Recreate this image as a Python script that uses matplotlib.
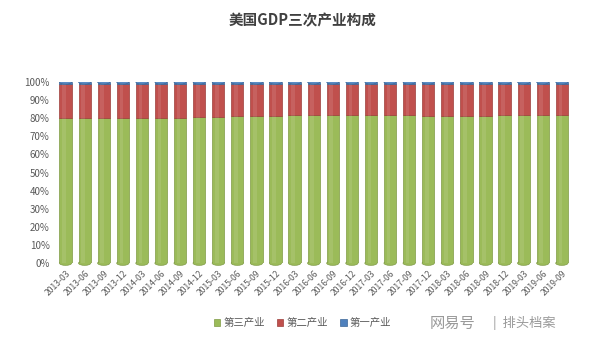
import matplotlib
matplotlib.use("Agg")
import matplotlib.pyplot as plt
import numpy as np
from matplotlib.patches import Ellipse

plt.rcParams['font.family'] = ['Noto Sans CJK SC', 'DejaVu Sans']

quarters = ["2013-03", "2013-06", "2013-09", "2013-12", "2014-03", "2014-06", "2014-09", "2014-12",
            "2015-03", "2015-06", "2015-09", "2015-12", "2016-03", "2016-06", "2016-09", "2016-12",
            "2017-03", "2017-06", "2017-09", "2017-12", "2018-03", "2018-06", "2018-09", "2018-12",
            "2019-03", "2019-06", "2019-09"]
tertiary = [79.9, 80.0, 80.0, 80.1, 80.0, 80.0, 80.2, 80.4,
            80.9, 81.0, 81.1, 81.3, 81.6, 81.5, 81.5, 81.6,
            81.5, 81.5, 81.5, 81.4, 81.3, 81.3, 81.4, 81.6,
            81.5, 81.6, 81.7]
primary = [1.2, 1.2, 1.2, 1.2, 1.2, 1.1, 1.1, 1.1,
           1.0, 1.0, 1.0, 1.0, 1.0, 1.0, 1.0, 1.0,
           1.0, 1.0, 1.0, 1.0, 1.0, 1.0, 1.0, 1.0,
           1.0, 1.0, 1.0]
secondary = [100 - t - p for t, p in zip(tertiary, primary)]
series_names = ["第三产业", "第二产业", "第一产业"]
colors = ["#9BBB59", "#C0504D", "#4F81BD"]

fig = plt.figure(figsize=(6.05, 3.4), dpi=100)
ax = fig.add_axes([0.091, 0.226, 0.855, 0.533])

x = np.arange(len(quarters))
w = 0.64
b1 = ax.bar(x, tertiary, w, color=colors[0], edgecolor="#7f9a45", linewidth=0.5, label=series_names[0], zorder=2)
b2 = ax.bar(x, secondary, w, bottom=tertiary, color=colors[1], edgecolor="#9c3d3a", linewidth=0.5, label=series_names[1], zorder=2)
bot3 = [t + s for t, s in zip(tertiary, secondary)]
b3 = ax.bar(x, primary, w, bottom=bot3, color=colors[2], edgecolor="#3d6797", linewidth=0.5, label=series_names[2], zorder=2)

# subtle highlight to suggest cylinders
ax.bar(x - w * 0.12, [100] * len(x), w * 0.3, color="white", alpha=0.10, linewidth=0, zorder=2.5)

# cylinder caps
tops = [a + b for a, b in zip(bot3, primary)]
for xi, tot in zip(x, tops):
    ax.add_patch(Ellipse((xi, tot), w, 2.4, facecolor="#5b8cc4", edgecolor="#3d6797", linewidth=0.5, zorder=3))
for xi in x:
    ax.add_patch(Ellipse((xi, 0), w, 2.4, facecolor=colors[0], edgecolor="#7f9a45", linewidth=0.5,
                         zorder=1.9, clip_on=False))

ax.set_ylim(0, 100)
ax.set_xlim(-0.55, len(quarters) - 0.45)
ax.set_yticks(np.arange(0, 101, 10))
ax.set_yticklabels([f"{v}%" for v in range(0, 101, 10)], fontsize=7, color="#595959")
ax.set_xticks(x)
ax.set_xticklabels(quarters, rotation=45, ha="right", rotation_mode="anchor", fontsize=6.2, color="#595959")
ax.tick_params(length=0, pad=4)
for s in ax.spines.values():
    s.set_visible(False)

fig.text(0.5, 0.94, "美国GDP三次产业构成", ha="center", va="center", fontsize=10.5,
         fontweight="bold", color="#404040")

fig.legend(handles=[b1, b2, b3], labels=series_names, loc="center", bbox_to_anchor=(0.5, 0.05),
           ncol=3, frameon=False, fontsize=7.5, handlelength=0.6, handleheight=0.6,
           handletextpad=0.3, columnspacing=1.2, labelcolor="#595959")

fig.text(0.71, 0.05, "网易号", ha="left", va="center", fontsize=11, color="#9a9a9a", style="italic")
fig.text(0.815, 0.05, "|  排头档案", ha="left", va="center", fontsize=9.5, color="#9a9a9a")

fig.savefig("out.png", dpi=100)
